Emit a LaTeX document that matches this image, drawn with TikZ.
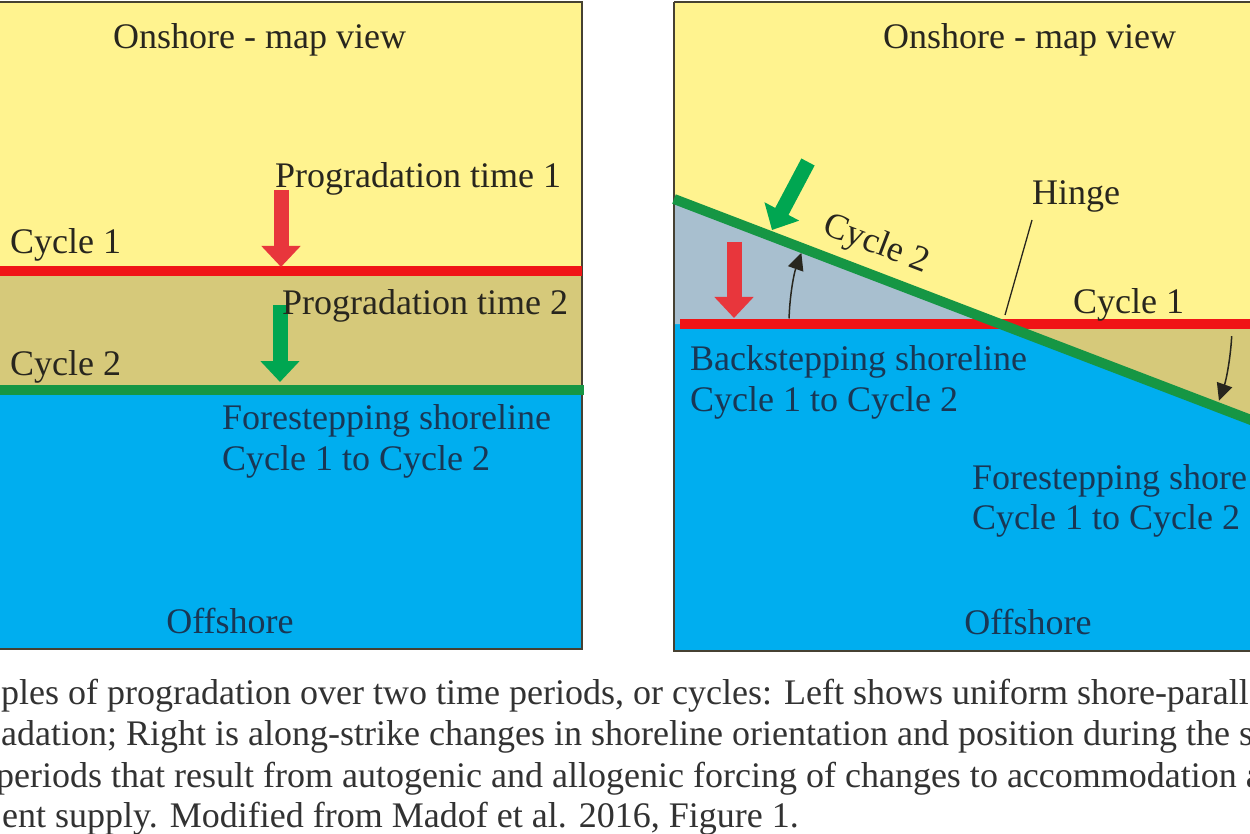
\documentclass[tikz,border=0pt]{standalone}
\usepackage{fontspec}
\setmainfont{Liberation Serif}
\usetikzlibrary{arrows.meta}
\definecolor{landY}{RGB}{255,243,143}
\definecolor{tanB}{RGB}{214,201,122}
\definecolor{seaB}{RGB}{0,174,239}
\definecolor{greyB}{RGB}{168,191,207}
\definecolor{redL}{RGB}{240,20,22}
\definecolor{redA}{RGB}{232,54,60}
\definecolor{greenL}{RGB}{22,150,68}
\definecolor{greenA}{RGB}{0,166,81}
\definecolor{borderC}{RGB}{70,65,50}
\definecolor{txtD}{RGB}{40,38,30}
\definecolor{txtB}{RGB}{25,55,85}
\definecolor{capC}{RGB}{50,50,50}
\begin{document}
\begin{tikzpicture}[x=1pt,y=-1pt,
  lbl/.style={font=\fontsize{36pt}{41pt}\selectfont, inner sep=0pt, anchor=base west, text=txtD},
  lblB/.style={lbl, text=txtB},
  captxt/.style={lbl, text=capC},
  shoreline/.style={line width=10pt},
  fatred/.style={draw=redA, line width=15pt, -{Triangle[width=38pt,length=21pt]}, redA},
  fatgreen/.style={draw=greenA, line width=15pt, -{Triangle[width=38pt,length=21pt]}, greenA},
  turnarrow/.style={draw=txtD, line width=1.5pt, -{Triangle[width=16pt,length=17pt]}},
  panelframe/.style={draw=borderC, line width=1.5pt}]
\useasboundingbox (0,0) rectangle (1250,834);
\clip (0,0) rectangle (1250,834);
\fill[white] (0,0) rectangle (1250,834);
% ---------- left panel ----------
\fill[landY] (-5,2) rectangle (582,271);
\fill[tanB] (-5,271) rectangle (582,389);
\fill[seaB] (-5,389) rectangle (582,649);
\draw[panelframe] (-5,2) rectangle (582,649);
\coordinate (l1a) at (-5,271);
\coordinate (l1b) at (582,271);
\coordinate (l2a) at (-5,389.5);
\coordinate (l2b) at (584,389.5);
\draw[shoreline, redL] (l1a) -- (l1b);
\draw[shoreline, greenL] (l2a) -- (l2b);
\coordinate (ra1) at (281,190);
\coordinate (ra2) at (281,267);
\coordinate (ga1) at (280,305);
\coordinate (ga2) at (280,382);
\draw[fatred] (ra1) -- (ra2);
\draw[fatgreen] (ga1) -- (ga2);
\node[lbl] (on1) at (113,49) {Onshore - map view};
\node[lbl] (pt1) at (275,188) {Progradation time 1};
\node[lbl] (c1l) at (10,254) {Cycle 1};
\node[lbl] (pt2) at (282,314) {Progradation time 2};
\node[lbl] (c2l) at (10,375) {Cycle 2};
\node[lblB] (fs1) at (222,429) {Forestepping shoreline};
\node[lblB] (fs2) at (222,470) {Cycle 1 to Cycle 2};
\node[lblB, anchor=base] (off1) at (230,633) {Offshore};
% ---------- right panel ----------
\coordinate (hinge) at (1000,324);
\coordinate (gL) at (674,199);
\coordinate (gR) at (1256,421.9);
\fill[seaB] (674,2) rectangle (1256,651);
\fill[landY] (674,2) -- (1256,2) -- (1256,324) -- (hinge) -- (gL) -- cycle;
\fill[greyB] (gL) -- (hinge) -- (674,324) -- cycle;
\fill[tanB] (hinge) -- (1256,324) -- (gR) -- cycle;
\draw[panelframe] (674,2) -- (1256,2) (674,2) -- (674,651) -- (1256,651);
\coordinate (r2a) at (680,324);
\coordinate (r2b) at (1256,324);
\draw[shoreline, redL] (r2a) -- (r2b);
\draw[shoreline, greenL] (gL) -- (gR);
\coordinate (rb1) at (734,242);
\coordinate (rb2) at (734,318);
\coordinate (gb1) at (808,162);
\coordinate (gb2) at (772,230);
\draw[fatred] (rb1) -- (rb2);
\draw[fatgreen] (gb1) -- (gb2);
\draw[turnarrow] ([shift={(178.5:211pt)}]hinge) arc[start angle=178.5, end angle=160.3, radius=211pt];
\draw[turnarrow] ([shift={(-3:232pt)}]hinge) arc[start angle=-3, end angle=-19.3, radius=232pt];
\node[lbl] (on2) at (883,49) {Onshore - map view};
\node[lbl] (hl) at (1032,205) {Hinge};
\coordinate (hl1) at (1032,220);
\coordinate (hl2) at (1005,315);
\draw[txtD, line width=1.3pt] (hl1) -- (hl2);
\node[lbl, anchor=center, rotate=-21] (c2r) at (876,245) {Cycle 2};
\node[lbl] (c1r) at (1073,313) {Cycle 1};
\node[lblB] (bs1) at (690,370) {Backstepping shoreline};
\node[lblB] (bs2) at (690,411) {Cycle 1 to Cycle 2};
\node[lblB] (fr1) at (972,489) {Forestepping shore};
\node[lblB] (fr2) at (972,529) {Cycle 1 to Cycle 2};
\node[lblB, anchor=base] (off2) at (1028,634) {Offshore};
% ---------- caption ----------
\node[captxt] (cp1) at (1,704) {ples of progradation over two time periods, or cycles: Left shows uniform shore-parall};
\node[captxt] (cp2) at (1,745) {adation; Right is along-strike changes in shoreline orientation and position during the s};
\node[captxt] (cp3) at (-4,787) {periods that result from autogenic and allogenic forcing of changes to accommodation a};
\node[captxt] (cp4) at (2,827) {ent supply. Modified from Madof et al. 2016, Figure 1.};
\end{tikzpicture}
\end{document}
